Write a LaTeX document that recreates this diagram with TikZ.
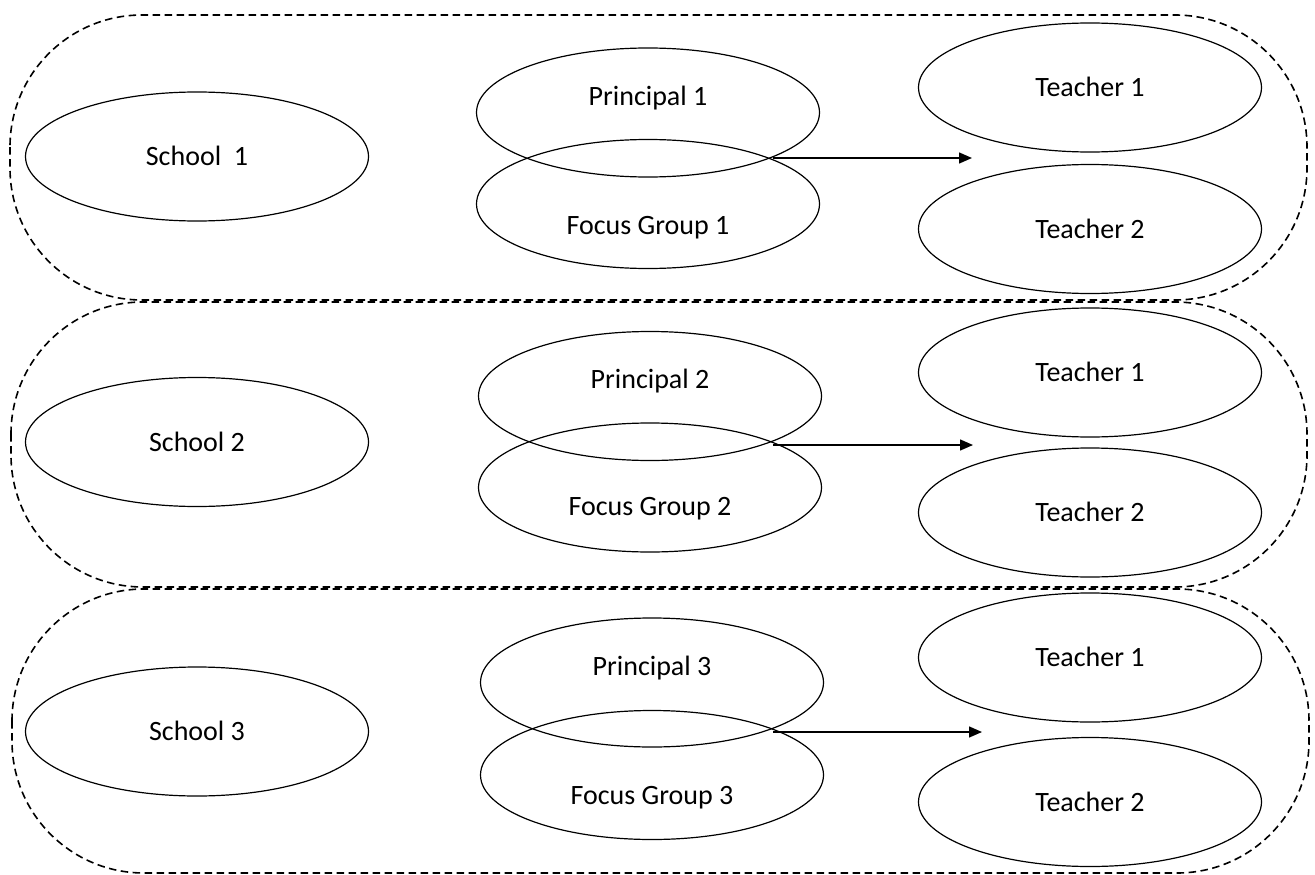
\documentclass[tikz,border=0pt]{standalone}
\usepackage{fontspec}
\setmainfont{Carlito}
\usetikzlibrary{shapes.geometric,arrows.meta}
\begin{document}
\begin{tikzpicture}[x=1pt,y=-1pt,
  oval/.style={draw, ellipse, line width=1.2pt, minimum width=343pt, minimum height=129pt, inner sep=0pt,
    font=\fontsize{28}{32}\selectfont, text height=18pt, text depth=0pt},
  lbl/.style={font=\fontsize{28}{32}\selectfont, text height=18pt, text depth=0pt, inner sep=0pt},
  grp/.style={draw, dash pattern=on 7.5pt off 4.5pt, line width=1.6pt, rounded corners=132pt},
  conn/.style={line width=1.4pt, -{Triangle[length=13pt,width=11pt]}}]
\useasboundingbox (0,0) rectangle (1315,875);

% group outlines
\draw[grp] (10,15) rectangle (1307,300);
\draw[grp] (11,302) rectangle (1307,587);
\draw[grp] (12,589) rectangle (1309,873);

% row 1
\node[oval] (s1) at (197,156.5) {School\ \ 1};
\node[oval] (p1) at (648,112.5) {};
\node[oval] (f1) at (648,204) {};
\node[lbl] (p1t) at (648,97) {Principal 1};
\node[lbl] (f1t) at (648,225) {Focus Group 1};
\node[oval] (t11) at (1090,87.5) {Teacher 1};
\node[oval] (t12) at (1090,229) {Teacher 2};
\coordinate (a1s) at (773,158);
\coordinate (a1e) at (972,158);
\draw[conn] (a1s) -- (a1e);

% row 2
\node[oval] (s2) at (197,442) {School 2};
\node[oval] (p2) at (650,396) {};
\node[oval] (f2) at (650,487.5) {};
\node[lbl] (p2t) at (650,379) {Principal 2};
\node[lbl] (f2t) at (650,506.5) {Focus Group 2};
\node[oval] (t21) at (1090,372.5) {Teacher 1};
\node[oval] (t22) at (1090,512.5) {Teacher 2};
\coordinate (a2s) at (773,445);
\coordinate (a2e) at (973,445);
\draw[conn] (a2s) -- (a2e);

% row 3
\node[oval] (s3) at (197,731.5) {School 3};
\node[oval] (p3) at (652,682.5) {};
\node[oval] (f3) at (652,775) {};
\node[lbl] (p3t) at (652,666.5) {Principal 3};
\node[lbl] (f3t) at (652,795) {Focus Group 3};
\node[oval] (t31) at (1090,657.5) {Teacher 1};
\node[oval] (t32) at (1090,802) {Teacher 2};
\coordinate (a3s) at (773,732);
\coordinate (a3e) at (982,732);
\draw[conn] (a3s) -- (a3e);
\end{tikzpicture}
\end{document}
